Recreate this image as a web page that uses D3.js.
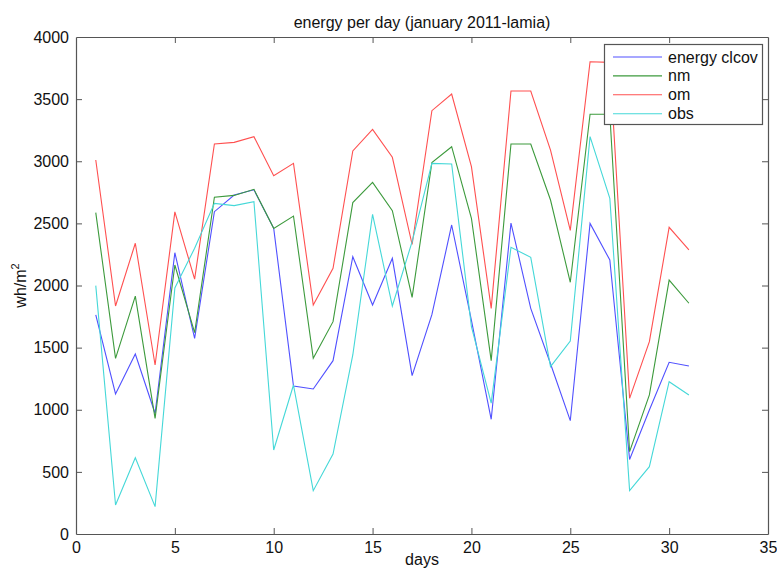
<!DOCTYPE html>
<html>
<head>
<meta charset="utf-8">
<script src="https://cdn.jsdelivr.net/npm/d3@7"></script>
<style>
  body { margin: 0; background: #fff; }
  svg text { font-family: "Liberation Sans", Arial, Helvetica, sans-serif; fill: #111; }
</style>
</head>
<body>
<svg id="chart" width="777" height="569"></svg>
<script>
// days of january 2011
const days = [1, 2, 3, 4, 5, 6, 7, 8, 9, 10, 11, 12, 13, 14, 15, 16,
              17, 18, 19, 20, 21, 22, 23, 24, 25, 26, 27, 28, 29, 30, 31];

// series values (wh/m2)
const energyClcov = [1763, 1127, 1449, 970, 2264, 1575, 2594, 2728, 2770, 2460, 1191, 1167, 1395, 2232, 1843, 2219,
                     1275, 1765, 2487, 1720, 923, 2503, 1816, 1370, 912, 2500, 2205, 600, 998, 1382, 1352];
const nm = [2586, 1414, 1915, 931, 2165, 1620, 2710, 2725, 2774, 2460, 2559, 1414, 1709, 2667, 2830, 2602,
            1905, 2989, 3117, 2541, 1395, 3139, 3139, 2688, 2026, 3378, 3378, 663, 1119, 2044, 1857];
const om = [3010, 1835, 2340, 1360, 2592, 2051, 3139, 3152, 3198, 2884, 2983, 1843, 2138, 3083, 3257, 3032,
            2330, 3407, 3541, 2956, 1816, 3565, 3565, 3090, 2444, 3801, 3796, 1092, 1548, 2468, 2286];
const obs = [1999, 233, 614, 220, 1980, 2300, 2661, 2643, 2675, 676, 1199, 349, 644, 1441, 2573, 1835,
             2353, 2983, 2978, 1668, 1053, 2307, 2227, 1347, 1553, 3198, 2702, 349, 542, 1226, 1119];

const seriesNames = ['energy clcov', 'nm', 'om', 'obs'];
const seriesColors = ['#5050ff', '#3c9a3c', '#ff5050', '#45d8d8'];
const seriesValues = [energyClcov, nm, om, obs];

const xTicks = [0, 5, 10, 15, 20, 25, 30, 35];
const yTicks = [0, 500, 1000, 1500, 2000, 2500, 3000, 3500, 4000];

const svg = d3.select('#chart');
const plotLeft = 76, plotRight = 768, plotTop = 37, plotBottom = 534;

const x = d3.scaleLinear().domain([0, 35]).range([plotLeft, plotRight]);
const y = d3.scaleLinear().domain([0, 4000]).range([plotBottom, plotTop]);

const axisColor = '#555';

// axes (ticks pointing inward, box on all sides like matlab)
const gx = svg.append('g').attr('transform', `translate(0,${plotBottom})`)
    .call(d3.axisBottom(x).tickValues(xTicks).tickSize(-6).tickPadding(8).tickSizeOuter(0).tickFormat(d3.format('d')));
const gxTop = svg.append('g').attr('transform', `translate(0,${plotTop})`)
    .call(d3.axisTop(x).tickValues(xTicks).tickSize(-6).tickFormat('').tickSizeOuter(0));
const gy = svg.append('g').attr('transform', `translate(${plotLeft},0)`)
    .call(d3.axisLeft(y).tickValues(yTicks).tickSize(-6).tickPadding(7).tickSizeOuter(0).tickFormat(d3.format('d')));
const gyRight = svg.append('g').attr('transform', `translate(${plotRight},0)`)
    .call(d3.axisRight(y).tickValues(yTicks).tickSize(-6).tickFormat('').tickSizeOuter(0));

[gx, gxTop, gy, gyRight].forEach(g => {
    g.select('.domain').attr('stroke', axisColor).attr('stroke-width', 1.2);
    g.selectAll('.tick line').attr('stroke', axisColor);
    g.selectAll('.tick text').attr('font-size', 16).attr('fill', '#222');
});
// hide the end ticks that sit on the frame corners
gx.selectAll('.tick').filter(d => d === 0 || d === 35).select('line').remove();
gxTop.selectAll('.tick').filter(d => d === 0 || d === 35).select('line').remove();
gy.selectAll('.tick').filter(d => d === 0 || d === 4000).select('line').remove();
gyRight.selectAll('.tick').filter(d => d === 0 || d === 4000).select('line').remove();

// lines
const line = d3.line()
    .x((d, i) => x(days[i]))
    .y(d => y(d));

seriesValues.forEach((vals, k) => {
    svg.append('path')
        .datum(vals)
        .attr('fill', 'none')
        .attr('stroke', seriesColors[k])
        .attr('stroke-width', 1.1)
        .attr('d', line);
});

// title and axis labels
svg.append('text')
    .attr('x', (plotLeft + plotRight) / 2)
    .attr('y', 28)
    .attr('text-anchor', 'middle')
    .attr('font-size', 16)
    .text('energy per day (january 2011-lamia)');

svg.append('text')
    .attr('x', (plotLeft + plotRight) / 2)
    .attr('y', 565)
    .attr('text-anchor', 'middle')
    .attr('font-size', 16)
    .text('days');

const yl = svg.append('text')
    .attr('transform', `translate(26,${(plotTop + plotBottom) / 2}) rotate(-90)`)
    .attr('text-anchor', 'middle')
    .attr('font-size', 16);
yl.append('tspan').text('wh/m');
yl.append('tspan').attr('font-size', 11).attr('dy', -7).text('2');

// legend
const legend = svg.append('g');
legend.append('rect')
    .attr('x', 604.5).attr('y', 44.5)
    .attr('width', 158).attr('height', 80)
    .attr('fill', '#fff')
    .attr('stroke', axisColor)
    .attr('stroke-width', 1.2);

seriesNames.forEach((name, k) => {
    const ry = 57 + k * 18.9;
    legend.append('line')
        .attr('x1', 613).attr('x2', 662)
        .attr('y1', ry).attr('y2', ry)
        .attr('stroke', seriesColors[k])
        .attr('stroke-width', 1.1);
    legend.append('text')
        .attr('x', 668).attr('y', ry + 5.5)
        .attr('font-size', 16)
        .text(name);
});
</script>
</body>
</html>
